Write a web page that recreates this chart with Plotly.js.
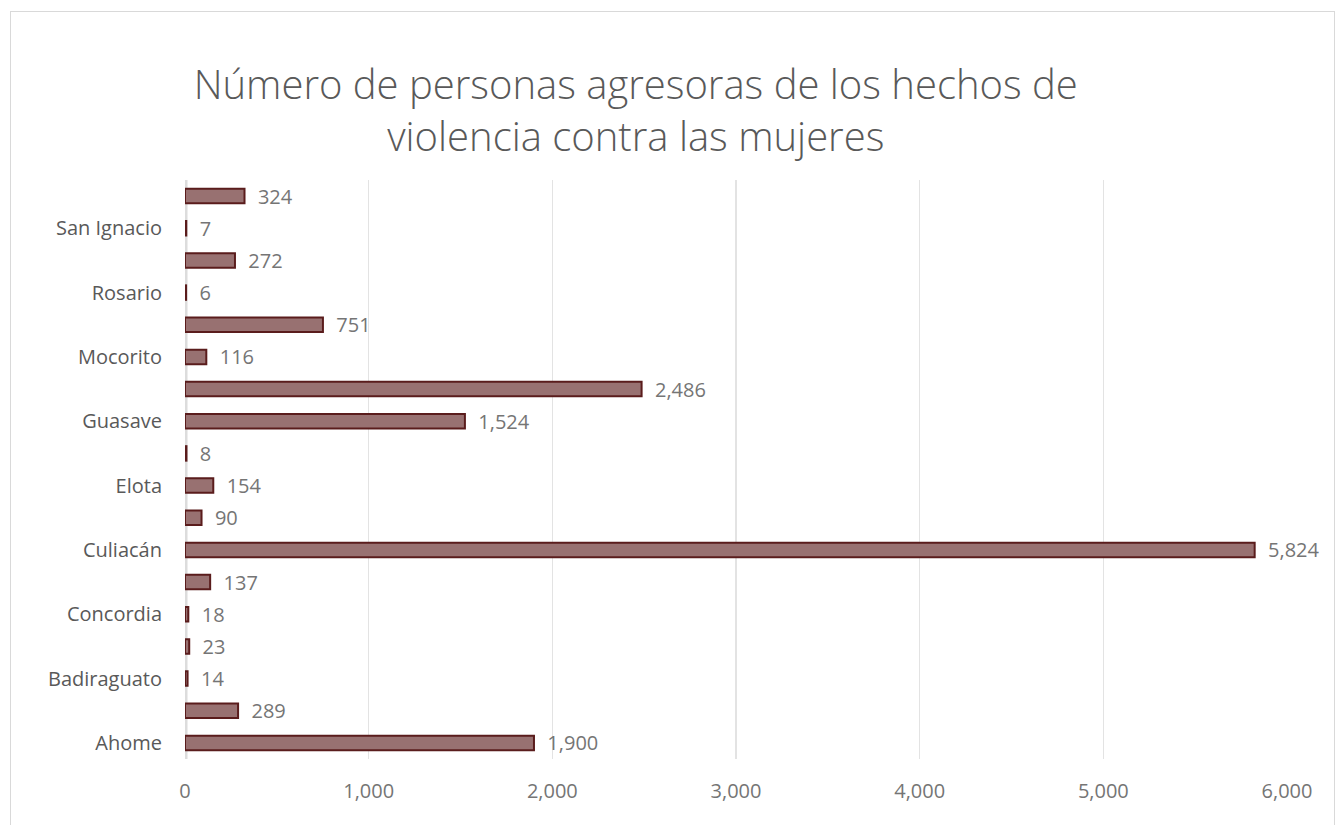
<!DOCTYPE html>
<html><head><meta charset="utf-8">
<script src="https://cdn.plot.ly/plotly-3.0.1.min.js"></script>
<style>
html,body{margin:0;padding:0;background:#fff;}
#chart{width:1344px;height:825px;position:absolute;left:0;top:0;}
#frame{position:absolute;left:10px;top:11px;width:1323px;height:830px;border:1.5px solid #d9d9d9;pointer-events:none;}
</style>
</head><body>
<div id="chart"></div>
<div id="frame"></div>
<script>
const categories = ["Ahome","Angostura","Badiraguato","Choix","Concordia","Cosalá","Culiacán","El Fuerte","Elota","Escuinapa","Guasave","Mazatlán","Mocorito","Navolato","Rosario","Salvador Alvarado","San Ignacio","Sinaloa"];
const values = [1900,289,14,23,18,137,5824,90,154,8,1524,2486,116,751,6,272,7,324];
const shownLabels = ["Ahome","Badiraguato","Concordia","Culiacán","Elota","Guasave","Mocorito","Rosario","San Ignacio"];
const xTicks = [0,1000,2000,3000,4000,5000,6000];
const xTickText = ["0","1,000","2,000","3,000","4,000","5,000","6,000"];

const trace = {
  type: 'bar', orientation: 'h',
  x: values, y: categories,
  marker: {color: '#987171', line: {color: '#5a1c1c', width: 2}},
  texttemplate: '\u00a0\u00a0%{x:,}', textposition: 'outside', cliponaxis: false, constraintext: 'none',
  textfont: {family: 'Open Sans, sans-serif', size: 20, color: '#757575'},
  hoverinfo: 'x+y'
};
const layout = {
  width: 1344, height: 825,
  margin: {l: 185, r: 57, t: 180, b: 66},
  paper_bgcolor: '#ffffff', plot_bgcolor: '#ffffff',
  bargap: 0.55,
  showlegend: false,
  title: {text: 'Número de personas agresoras de los hechos de<br>violencia contra las mujeres',
    font: {family: 'Open Sans, sans-serif', size: 40, color: '#595959', weight: 300},
    x: 0.473, xanchor: 'center', y: 0.88, yanchor: 'middle'},
  xaxis: {range: [0, 6000], tickmode: 'array', tickvals: xTicks, ticktext: xTickText,
    showgrid: true, gridcolor: '#e3e3e3', gridwidth: 1.5, zeroline: false, showline: false,
    ticklabelstandoff: 18,
    tickfont: {family: 'Open Sans, sans-serif', size: 20, color: '#757575'}},
  yaxis: {type: 'category', categoryorder: 'array', categoryarray: categories,
    range: [-0.5, 17.5], tickmode: 'array', tickvals: shownLabels, ticktext: shownLabels,
    showgrid: false, zeroline: false, showline: false, ticklabelstandoff: 22,
    tickfont: {family: 'Open Sans, sans-serif', size: 20, color: '#595959'}},
  shapes: [{type: 'rect', xref: 'x', yref: 'paper', x0: 0, x1: 0, y0: 0, y1: 1,
    line: {color: '#dcdcdc', width: 5}, layer: 'below'}]
};
Plotly.newPlot('chart', [trace], layout, {displayModeBar: false, staticPlot: true});
</script>
</body></html>
